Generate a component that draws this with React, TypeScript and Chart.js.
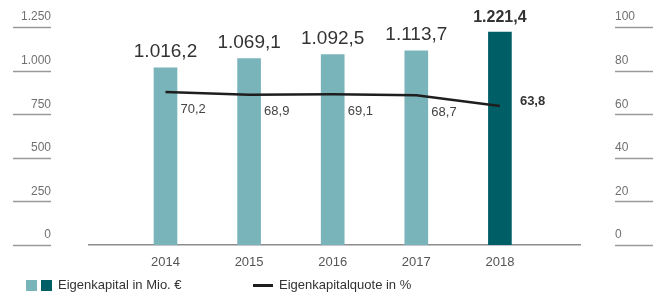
import React, { useEffect, useRef } from "react";
import { Chart, registerables } from "chart.js";

Chart.register(...registerables);

const years = [2014, 2015, 2016, 2017, 2018];
const equity = [1016.2, 1069.1, 1092.5, 1113.7, 1221.4];
const ratio = [70.2, 68.9, 69.1, 68.7, 63.8];
const leftTicks = [0, 250, 500, 750, 1000, 1250];
const rightTicks = [0, 20, 40, 60, 80, 100];
const legendBar = "Eigenkapital in Mio. €";
const legendLine = "Eigenkapitalquote in %";

const LIGHT = "#7ab4bb";
const DARK = "#005f66";
const FONT = "'Liberation Sans', Arial, Helvetica, sans-serif";

function de(v: number, digits: number): string {
  const s = v.toFixed(digits);
  const [i, f] = s.split(".");
  const int = i.replace(/\B(?=(\d{3})+(?!\d))/g, ".");
  return f ? int + "," + f : int;
}

const X_MIN = 2013.085;
const X_MAX = 2018.958;

const decorPlugin = {
  id: "decor",
  afterDraw(chart: any) {
    const ctx = chart.ctx;
    ctx.save();
    // underlines under y tick labels
    ctx.strokeStyle = "#9a9a9a";
    ctx.lineWidth = 1.5;
    const yS = chart.scales.y;
    yS.ticks.forEach((t: any) => {
      const py = Math.round(yS.getPixelForValue(t.value)) + 0.5;
      ctx.beginPath();
      ctx.moveTo(13, py);
      ctx.lineTo(51, py);
      ctx.stroke();
    });
    const y1 = chart.scales.y1;
    y1.ticks.forEach((t: any) => {
      const py = Math.round(y1.getPixelForValue(t.value)) + 0.5;
      ctx.beginPath();
      ctx.moveTo(615, py);
      ctx.lineTo(653, py);
      ctx.stroke();
    });

    // bar value labels
    const barMeta = chart.getDatasetMeta(0);
    barMeta.data.forEach((el: any, i: number) => {
      const last = i === equity.length - 1;
      ctx.fillStyle = "#333";
      ctx.font = last ? `bold 16px ${FONT}` : `19px ${FONT}`;
      ctx.textAlign = "center";
      ctx.textBaseline = "middle";
      ctx.fillText(de(equity[i], 1), el.x, el.y - (last ? 14 : 16));
    });

    // line value labels
    const lineMeta = chart.getDatasetMeta(1);
    lineMeta.data.forEach((el: any, i: number) => {
      const last = i === ratio.length - 1;
      ctx.fillStyle = last ? "#333" : "#444";
      ctx.font = last ? `bold 13px ${FONT}` : `13px ${FONT}`;
      ctx.textAlign = "left";
      ctx.textBaseline = "middle";
      if (last) ctx.fillText(de(ratio[i], 1), el.x + 20, el.y - 4);
      else ctx.fillText(de(ratio[i], 1), el.x + 15, el.y + 17);
    });
    ctx.restore();
  },
};

export default function App() {
  const ref = useRef<HTMLCanvasElement>(null);
  useEffect(() => {
    document.body.style.margin = "0";
    Chart.defaults.font.family = FONT;
    const chart = new Chart(ref.current!, {
      type: "bar",
      data: {
        datasets: [
          {
            type: "bar",
            label: legendBar,
            data: years.map((y, i) => ({ x: y, y: equity[i] })),
            backgroundColor: years.map((_, i) => (i === years.length - 1 ? DARK : LIGHT)),
            barThickness: 23,
            yAxisID: "y",
            order: 1,
          } as any,
          {
            type: "line",
            label: legendLine,
            data: years.map((y, i) => ({ x: y, y: ratio[i] })),
            borderColor: "#1e1e1e",
            borderWidth: 2.5,
            pointRadius: 0,
            tension: 0,
            fill: false,
            yAxisID: "y1",
            order: 0,
          } as any,
        ],
      },
      options: {
        animation: false,
        responsive: true,
        maintainAspectRatio: false,
        layout: { padding: { top: 27, left: 0, right: 0, bottom: 0 } },
        plugins: { legend: { display: false }, tooltip: { enabled: false } },
        scales: {
          x: {
            type: "linear",
            offset: false,
            min: X_MIN,
            max: X_MAX,
            afterBuildTicks: (s: any) => {
              s.ticks = years.map((v) => ({ value: v }));
            },
            afterFit: (s: any) => {
              s.height = 56;
            },
            ticks: {
              callback: (v: any) => String(v),
              padding: 10,
              color: "#555",
              font: { size: 13 },
              autoSkip: false,
              maxRotation: 0,
            },
            grid: { display: false, drawTicks: false, offset: false },
            border: { color: "#8c8c8c", width: 1.5 },
          },
          y: {
            position: "left",
            min: 0,
            max: 1250,
            afterBuildTicks: (s: any) => {
              s.ticks = leftTicks.map((v) => ({ value: v }));
            },
            afterFit: (s: any) => {
              s.width = 89;
              s.paddingTop = 0;
              s.paddingBottom = 0;
            },
            ticks: {
              callback: (v: any) => de(Number(v), 0),
              padding: 38,
              labelOffset: -10,
              color: "#707070",
              font: { size: 12 },
            },
            grid: { display: false, drawTicks: false },
            border: { display: false },
          },
          y1: {
            position: "right",
            min: 0,
            max: 100,
            afterBuildTicks: (s: any) => {
              s.ticks = rightTicks.map((v) => ({ value: v }));
            },
            afterFit: (s: any) => {
              s.width = 83;
              s.paddingTop = 0;
              s.paddingBottom = 0;
            },
            ticks: {
              callback: (v: any) => String(v),
              padding: 35,
              labelOffset: -10,
              color: "#707070",
              font: { size: 12 },
            },
            grid: { display: false, drawTicks: false },
            border: { display: false },
          },
        },
      } as any,
      plugins: [decorPlugin],
    });
    return () => chart.destroy();
  }, []);

  const text: React.CSSProperties = {
    position: "absolute",
    top: 277,
    fontFamily: FONT,
    fontSize: 13,
    color: "#333",
    lineHeight: "16px",
    whiteSpace: "nowrap",
  };
  return (
    <div style={{ position: "relative", width: 663, height: 301 }}>
      <canvas ref={ref} />
      <div style={{ position: "absolute", left: 26, top: 280, width: 11, height: 11, background: LIGHT }} />
      <div style={{ position: "absolute", left: 41, top: 280, width: 11, height: 11, background: DARK }} />
      <div style={{ ...text, left: 58 }}>{legendBar}</div>
      <div style={{ position: "absolute", left: 253, top: 284, width: 20, height: 3, background: "#1e1e1e" }} />
      <div style={{ ...text, left: 279 }}>{legendLine}</div>
    </div>
  );
}
